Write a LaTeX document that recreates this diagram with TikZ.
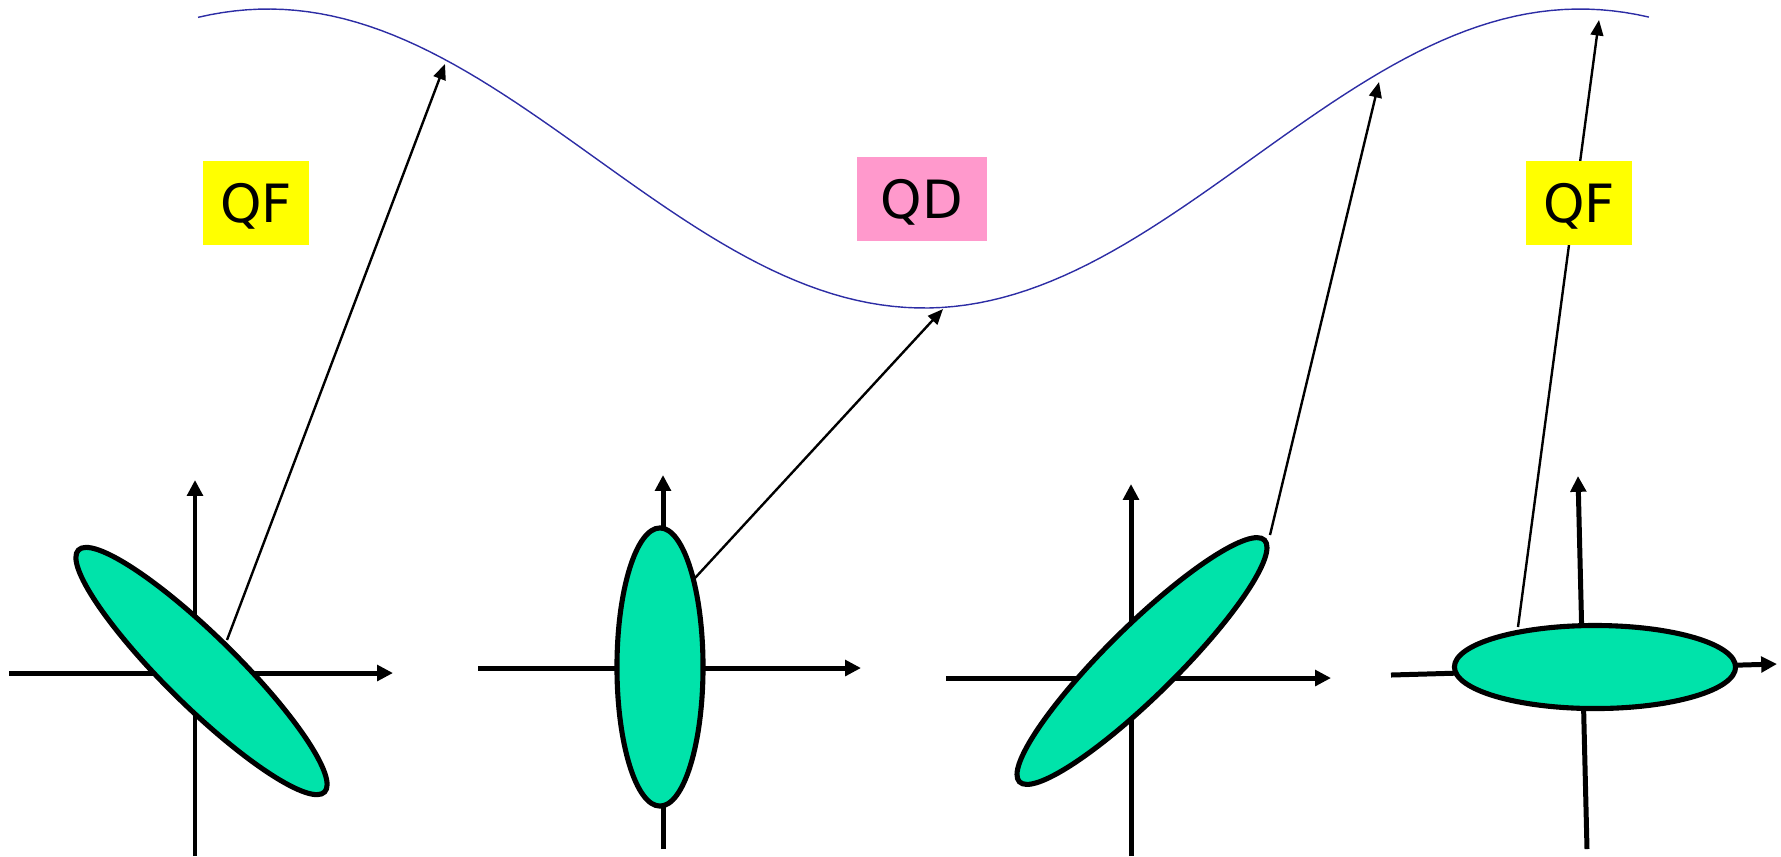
\documentclass[tikz,border=0pt]{standalone}
\usepackage{fontspec}
\setmainfont{DejaVu Sans}
\usetikzlibrary{shapes.geometric,arrows.meta}
\definecolor{lens}{RGB}{0,227,170}
\definecolor{qfcol}{RGB}{255,255,0}
\definecolor{qdcol}{RGB}{255,153,204}
\definecolor{orbit}{RGB}{45,45,165}

\begin{document}
\begin{tikzpicture}[x=.01cm,y=-.01cm,line width=.4pt,font=\fontsize{15}{18}\selectfont,
  axis/.style={line width=1.42pt,-{Triangle[length=4.5pt,width=4.4pt]}},
  ray/.style={line width=.68pt,-{Triangle[length=4.4pt,width=3.6pt]}},
  beam/.style={ellipse,draw,line width=1.45pt,fill=lens,inner sep=0pt},
  quad/.style={minimum width=1.06cm,minimum height=.84cm,inner sep=0pt,text depth=0pt}]
\useasboundingbox (0,0) rectangle (1781,856);
\draw[orbit] plot[domain=-19.2:378.9,samples=120] ({268+3.64444*\x},{158.5-149.5*cos(\x)});
\draw[axis] (9,673)--(393,673);
\draw[axis] (195,856)--(195,480);
\draw[axis] (478,668)--(861,668);
\draw[axis] (663,849)--(663,475);
\draw[axis] (946,678)--(1331,678);
\draw[axis] (1131,856)--(1131,484);
\draw[axis] (1391,675)--(1777,664);
\draw[axis] (1587,849)--(1578,476);
\node[beam,minimum width=3.45cm,minimum height=.71cm,rotate=-44.5] (e1) at (201.5,671) {};
\node[beam,minimum width=.86cm,minimum height=2.78cm] (e2) at (660,667) {};
\node[beam,minimum width=3.44cm,minimum height=.70cm,rotate=44.6] (e3) at (1142,661) {};
\node[beam,minimum width=2.81cm,minimum height=.83cm] (e4) at (1595,667) {};
\coordinate (s1) at (227,640);
\coordinate (t1) at (445,64);
\coordinate (s2) at (695,578);
\coordinate (t2) at (943,309);
\coordinate (s3) at (1270,535);
\coordinate (t3) at (1379,82);
\coordinate (s4) at (1518,627);
\coordinate (t4) at (1599,20);
\draw[ray] (s1)--(t1);
\draw[ray] (s2)--(t2);
\draw[ray] (s3)--(t3);
\draw[ray] (s4)--(t4);
\node[quad,fill=qfcol] (qf1) at (256,203) {QF};
\node[quad,fill=qdcol,minimum width=1.3cm] (qd) at (922,199) {QD};
\node[quad,fill=qfcol] (qf2) at (1579,203) {QF};
\end{tikzpicture}
\end{document}
